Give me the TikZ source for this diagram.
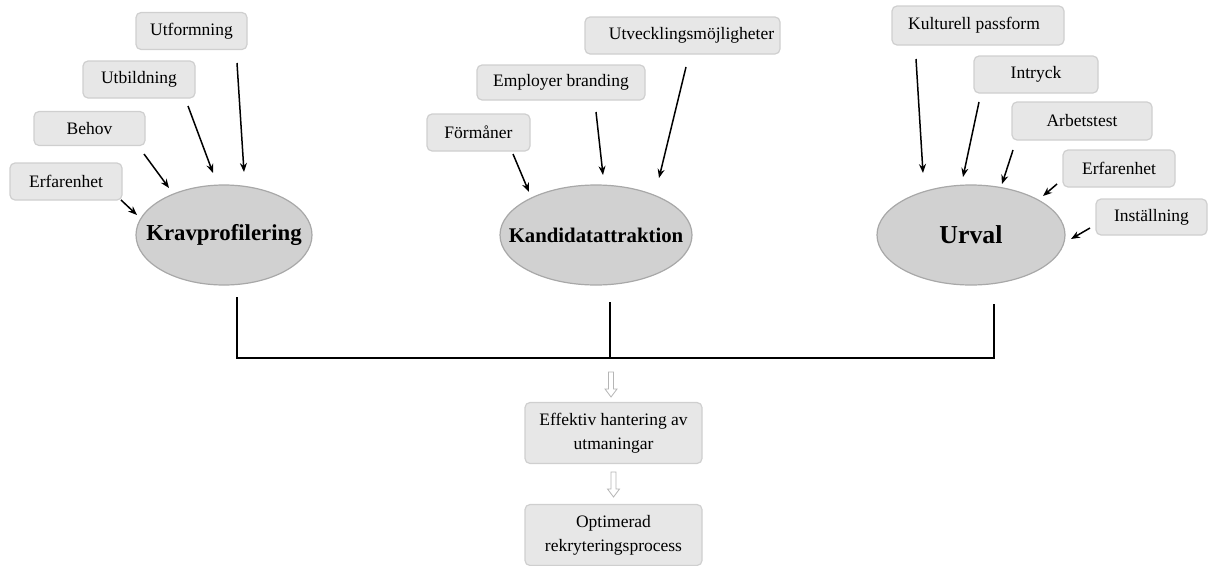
\documentclass[tikz,border=0pt]{standalone}
\usepackage{fontspec}
\setmainfont{Liberation Serif}
\usetikzlibrary{arrows.meta,shapes.geometric}
\definecolor{boxfill}{HTML}{E7E7E7}
\definecolor{boxline}{HTML}{CFCFCF}
\definecolor{ovalfill}{HTML}{D1D1D1}
\definecolor{ovalline}{HTML}{A8A8A8}
\definecolor{hollowline}{HTML}{B5B5B5}
\newcommand{\ovaltext}[1]{\makebox[0pt]{#1}}
\begin{document}
\begin{tikzpicture}[x=1pt,y=-1pt,
  box/.style={draw=boxline, fill=boxfill, rounded corners=5pt, line width=1.2pt,
    minimum height=37pt, inner sep=0pt, font=\fontsize{17.5}{20}\selectfont},
  twobox/.style={box, minimum width=177pt, minimum height=61pt, align=center,
    font=\fontsize{17.5}{24}\selectfont},
  oval/.style={ellipse, draw=ovalline, fill=ovalfill, line width=1.2pt, inner sep=0pt},
  arr/.style={-{Stealth[length=9pt,width=7pt]}, line width=1.5pt},
  link/.style={line width=1.8pt},
  hollow/.pic={\draw[hollowline, fill=white, line width=0.8pt]
    (-2.5,0) -- (-2.5,17) -- (-6,17) -- (0,25) -- (6,17) -- (2.5,17) -- (2.5,0) -- cycle;}]
\useasboundingbox (0,0) rectangle (1209,565);

% ---------- left group ----------
\node[oval, minimum width=176pt, minimum height=100pt, font=\bfseries\fontsize{22.8}{26}\selectfont] (krav) at (224,235) {\ovaltext{Kravprofilering}};
\node[box, minimum width=111pt] (utform) at (191.5,31) {Utformning};
\node[box, minimum width=112pt] (utbild) at (139,79.5) {Utbildning};
\node[box, minimum width=111pt, minimum height=34pt] (behov) at (89.5,128.5) {Behov};
\node[box, minimum width=112pt] (erf1) at (66,181.5) {Erfarenhet};

\coordinate (a1s) at (121,200); \coordinate (a1e) at (137,215);
\coordinate (a2s) at (144,154); \coordinate (a2e) at (169,188);
\coordinate (a3s) at (188,106); \coordinate (a3e) at (213,173);
\coordinate (a4s) at (237,63);  \coordinate (a4e) at (244,172);
\draw[arr] (a1s) -- (a1e);
\draw[arr] (a2s) -- (a2e);
\draw[arr] (a3s) -- (a3e);
\draw[arr] (a4s) -- (a4e);

% ---------- middle group ----------
\node[oval, minimum width=192pt, minimum height=100pt, font=\bfseries\fontsize{20.8}{24}\selectfont] (kand) at (596,235) {\ovaltext{Kandidatattraktion}};
\node[box, minimum width=103pt] (form) at (478.5,132.5) {Förmåner};
\node[box, minimum width=168pt, minimum height=35pt] (empl) at (561,82.5) {Employer branding};
\node[box, minimum width=195pt] (utv) at (682.5,35.5) {\hspace*{18pt}Utvecklingsmöjligheter};

\coordinate (b1s) at (513,154); \coordinate (b1e) at (529,192);
\coordinate (b2s) at (596,112); \coordinate (b2e) at (603,175);
\coordinate (b3s) at (686,67);  \coordinate (b3e) at (659,178);
\draw[arr] (b1s) -- (b1e);
\draw[arr] (b2s) -- (b2e);
\draw[arr] (b3s) -- (b3e);

% ---------- right group ----------
\node[oval, minimum width=188pt, minimum height=100pt, font=\bfseries\fontsize{25.8}{30}\selectfont] (urval) at (971,235) {\ovaltext{Urval}};
\node[box, minimum width=172pt, minimum height=39pt] (kult) at (978,25.5) {Kulturell passform\hspace*{8pt}};
\node[box, minimum width=124pt] (intr) at (1036,74.5) {Intryck};
\node[box, minimum width=140pt, minimum height=38pt] (arb) at (1082,121) {Arbetstest};
\node[box, minimum width=112pt] (erf2) at (1119,168.5) {Erfarenhet};
\node[box, minimum width=111pt, minimum height=36pt] (inst) at (1151.5,217) {Inställning};

\coordinate (c1s) at (916,59);   \coordinate (c1e) at (923,173);
\coordinate (c2s) at (979,102);  \coordinate (c2e) at (963,177);
\coordinate (c3s) at (1013,150); \coordinate (c3e) at (1002,184);
\coordinate (c4s) at (1057,184); \coordinate (c4e) at (1043,196);
\coordinate (c5s) at (1090,228); \coordinate (c5e) at (1071,239);
\draw[arr] (c1s) -- (c1e);
\draw[arr] (c2s) -- (c2e);
\draw[arr] (c3s) -- (c3e);
\draw[arr] (c4s) -- (c4e);
\draw[arr] (c5s) -- (c5e);

% ---------- connector bus ----------
\coordinate (k1) at (237,297);
\coordinate (k2) at (610,302);
\coordinate (k3) at (994,304);
\coordinate (busL) at (237,358);
\coordinate (busM) at (610,358);
\coordinate (busR) at (994,358);
\draw[link] (k1) -- (busL) -- (busR) -- (k3);
\draw[link] (k2) -- (busM);

% ---------- bottom ----------
\node[twobox] (eff) at (613.5,433) {Effektiv hantering av\\utmaningar};
\node[twobox] (opt) at (613.5,535) {Optimerad\\rekryteringsprocess};
\pic at (611,372) {hollow};
\pic at (613.5,472) {hollow};
\end{tikzpicture}
\end{document}
